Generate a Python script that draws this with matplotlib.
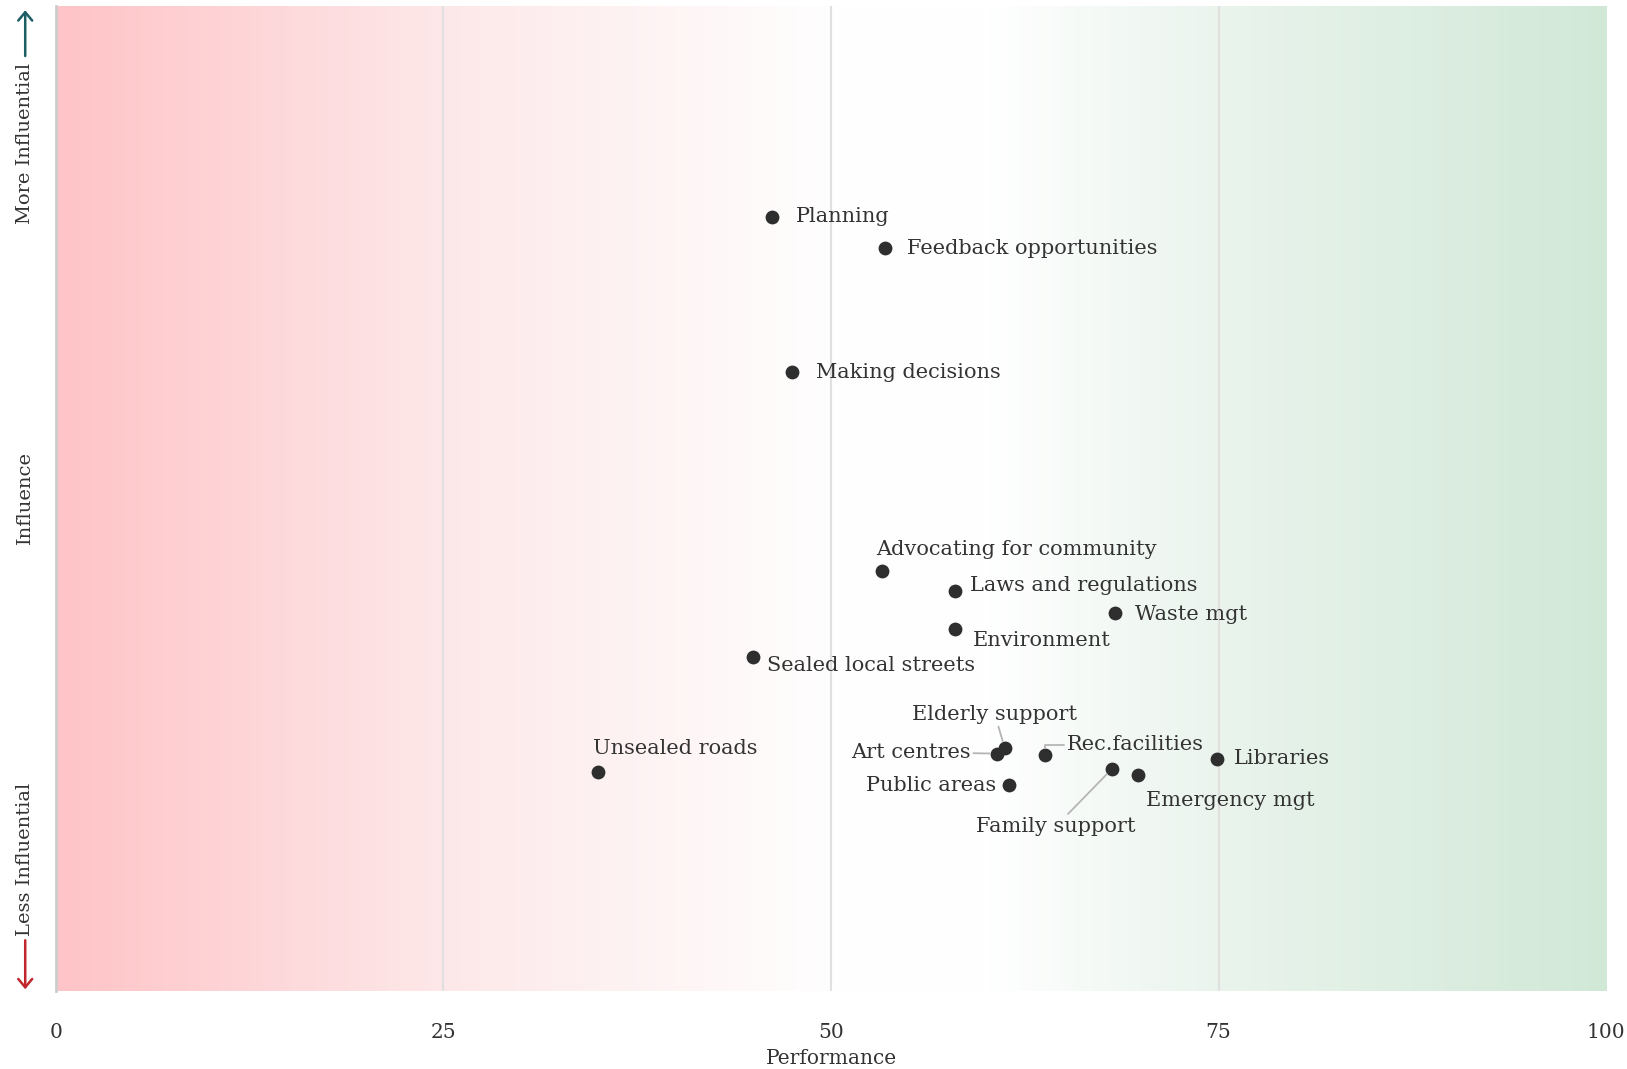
import numpy as np
import matplotlib.pyplot as plt
from matplotlib.colors import LinearSegmentedColormap
from matplotlib.patches import FancyArrowPatch

# services: performance (x) vs influence (y, arbitrary 0-100 scale)
services = ['Planning', 'Feedback opportunities', 'Making decisions',
            'Advocating for community', 'Laws and regulations', 'Waste mgt',
            'Environment', 'Sealed local streets', 'Unsealed roads',
            'Elderly support', 'Art centres', 'Rec.facilities', 'Public areas',
            'Family support', 'Emergency mgt', 'Libraries']
performance = [46.2, 53.5, 47.5, 53.3, 58.0, 68.3, 58.0, 45.0, 35.0,
               61.2, 60.7, 63.8, 61.5, 68.1, 69.8, 74.9]
influence = [78.6, 75.4, 62.8, 42.6, 40.6, 38.4, 36.7, 33.9, 22.2,
             24.7, 24.1, 24.0, 20.9, 22.5, 21.9, 23.5]
xticks = [0, 25, 50, 75, 100]

# label placement: (dx, dy) in points, ha, leader line style
label_pos = {
    'Planning': (17, 0, 'left', None),
    'Feedback opportunities': (16, 0, 'left', None),
    'Making decisions': (17, 0, 'left', None),
    'Advocating for community': (-4, 16, 'left', None),
    'Laws and regulations': (11, 4, 'left', None),
    'Waste mgt': (15, -1, 'left', None),
    'Environment': (13, -8, 'left', None),
    'Sealed local streets': (10, -6, 'left', None),
    'Unsealed roads': (-4, 17, 'left', None),
    'Elderly support': (-7, 24, 'center', 'arc3'),
    'Art centres': (-19, 1, 'right', 'arc3'),
    'Rec.facilities': (16, 7, 'left', 'angle,angleA=0,angleB=90,rad=0'),
    'Public areas': (-9, 0, 'right', None),
    'Family support': (-40, -41, 'center', 'arc3'),
    'Emergency mgt': (6, -18, 'left', None),
    'Libraries': (12, 1, 'left', None),
}

plt.rcParams['font.family'] = ['DejaVu Serif']
fig = plt.figure(figsize=(16.27, 10.69), dpi=100)
ax = fig.add_axes([0.0344, 0.073, 0.9527, 0.9214])

cmap = LinearSegmentedColormap.from_list('bg', [
    (0.0, '#ffc4c7'), (0.25, '#fde8e9'), (0.5, '#fffefe'),
    (0.6, '#ffffff'), (0.75, '#eaf4ed'), (1.0, '#d1e8d7')])
grad = np.linspace(0, 1, 512).reshape(1, -1)
ax.imshow(grad, cmap=cmap, aspect='auto', extent=[0, 100, 0, 100], zorder=0)

for v in [25, 50, 75]:
    ax.axvline(v, color='#e0e0e0', lw=1.5, zorder=1)

ax.scatter(performance, influence, s=80, color='#2e2e2e', zorder=3)

for name, x, y in zip(services, performance, influence):
    dx, dy, ha, conn = label_pos[name]
    props = None
    if conn:
        props = dict(arrowstyle='-', color='#b5b5b5', lw=1.3,
                     connectionstyle=conn, shrinkA=0, shrinkB=5)
    ax.annotate(name, (x, y), xytext=(dx, dy), textcoords='offset points',
                ha=ha, va='center', fontsize=15, color='#333333',
                arrowprops=props, zorder=4)

ax.set_xlim(0, 100)
ax.set_ylim(0, 100)
ax.set_xticks(xticks)
ax.set_xticklabels([str(t) for t in xticks], fontsize=14.5, color='#333333')
ax.tick_params(axis='x', length=0, pad=23)
ax.set_yticks([])
ax.set_xlabel('Performance', fontsize=14.5, color='#333333', labelpad=5)
for s in ['top', 'right', 'bottom']:
    ax.spines[s].set_visible(False)
ax.spines['left'].set_color('#cccccc')
ax.spines['left'].set_linewidth(2)

# y axis description with arrows
fig.text(0.0155, 0.866, 'More Influential', rotation=90, ha='center',
         va='center', fontsize=14, color='#333333')
fig.text(0.0155, 0.535, 'Influence', rotation=90, ha='center',
         va='center', fontsize=14, color='#333333')
fig.text(0.0155, 0.196, 'Less Influential', rotation=90, ha='center',
         va='center', fontsize=14, color='#333333')
fig.patches.append(FancyArrowPatch(
    (0.0155, 0.945), (0.0155, 0.993), transform=fig.transFigure,
    arrowstyle='->,head_width=5,head_length=6', color='#1b5e63', lw=1.8))
fig.patches.append(FancyArrowPatch(
    (0.0155, 0.123), (0.0155, 0.072), transform=fig.transFigure,
    arrowstyle='->,head_width=5,head_length=6', color='#c0272d', lw=1.8))

fig.savefig('out.png', dpi=100)
